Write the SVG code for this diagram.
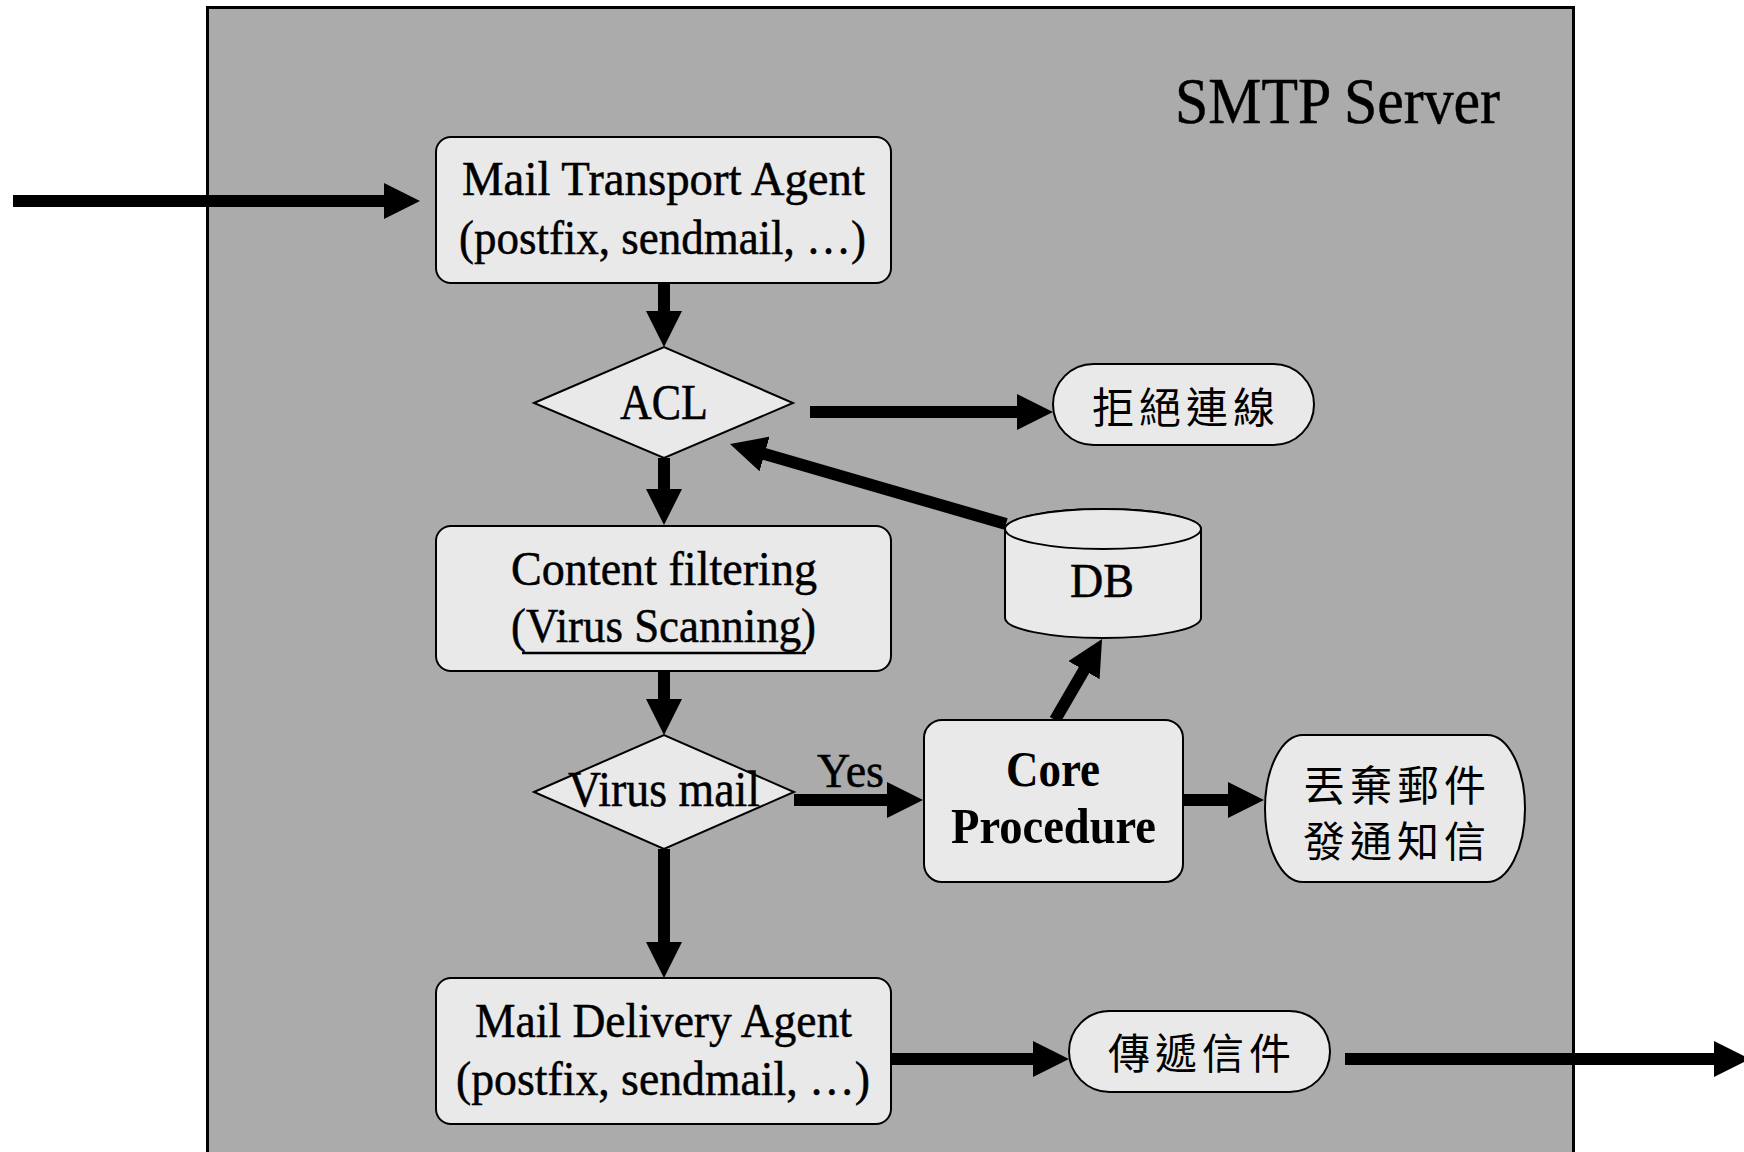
<svg xmlns="http://www.w3.org/2000/svg" width="1744" height="1152" viewBox="0 0 1744 1152">
<style>
.bg{fill:#ffffff}
.server{fill:#ababab;stroke:#000;stroke-width:3}
.node{fill:#e9e9e9;stroke:#000;stroke-width:2}
.conn{fill:none;stroke:#000;stroke-width:12;stroke-linecap:butt}
.t{font-family:"Liberation Serif","Times New Roman",serif;font-size:48px;fill:#000;stroke:#000;stroke-width:0.5}
.tb{font-family:"Liberation Serif","Times New Roman",serif;font-size:50px;font-weight:bold;fill:#000}
.cjk{font-family:"Noto Sans CJK TC","Noto Sans CJK SC",sans-serif;font-size:42px;letter-spacing:5px;fill:#000;text-anchor:middle}
</style>
<defs>
<marker id="ah" markerUnits="userSpaceOnUse" markerWidth="36" markerHeight="36" viewBox="0 0 36 36" refX="6" refY="18" orient="auto">
<path d="M0,0 L36,18 L0,36 z" fill="#000"/>
</marker>
</defs>
<rect class="bg" x="0" y="0" width="1744" height="1152"/>
<g id="smtp-server">
<rect class="server" x="207.5" y="7.5" width="1366" height="1200"/>
<text class="t" x="1175" y="123" style="font-size:65px" textLength="325" lengthAdjust="spacingAndGlyphs">SMTP Server</text>
</g>
<g id="connectors">
<line class="conn" x1="13" y1="201" x2="390" y2="201" marker-end="url(#ah)"/>
<line class="conn" x1="664" y1="283" x2="664" y2="317" marker-end="url(#ah)"/>
<line class="conn" x1="810" y1="412" x2="1023" y2="412" marker-end="url(#ah)"/>
<line class="conn" x1="664" y1="458" x2="664" y2="495" marker-end="url(#ah)"/>
<line class="conn" x1="1006" y1="524" x2="758.8" y2="452.3" marker-end="url(#ah)"/>
<line class="conn" x1="664" y1="671" x2="664" y2="705" marker-end="url(#ah)"/>
<line class="conn" x1="1055" y1="720" x2="1087" y2="665" marker-end="url(#ah)"/>
<line class="conn" x1="794" y1="800" x2="893" y2="800" marker-end="url(#ah)"/>
<line class="conn" x1="1183" y1="800" x2="1234" y2="800" marker-end="url(#ah)"/>
<line class="conn" x1="664" y1="849" x2="664" y2="948" marker-end="url(#ah)"/>
<line class="conn" x1="890" y1="1059" x2="1039" y2="1059" marker-end="url(#ah)"/>
<line class="conn" x1="1345" y1="1059" x2="1720" y2="1059" marker-end="url(#ah)"/>
<text class="t" x="817" y="787" textLength="67" lengthAdjust="spacingAndGlyphs">Yes</text>
</g>
<g id="mta">
<rect class="node" x="436" y="137" width="455" height="146" rx="15"/>
<text class="t" x="462" y="195" textLength="403" lengthAdjust="spacingAndGlyphs">Mail Transport Agent</text>
<text class="t" x="459" y="254" textLength="407" lengthAdjust="spacingAndGlyphs">(postfix, sendmail, …)</text>
</g>
<g id="acl">
<polygon class="node" points="534,403 664,347 793,403 664,458"/>
<text class="t" x="620" y="419" style="font-size:50px" textLength="88" lengthAdjust="spacingAndGlyphs">ACL</text>
</g>
<g id="reject">
<rect class="node" x="1053" y="364" width="261" height="81" rx="40.5"/>
<text class="cjk" x="1186" y="423">拒絕連線</text>
</g>
<g id="content-filter">
<rect class="node" x="436" y="526" width="455" height="145" rx="15"/>
<text class="t" x="511" y="585" textLength="306" lengthAdjust="spacingAndGlyphs">Content filtering</text>
<text class="t" x="511" y="642" textLength="305" lengthAdjust="spacingAndGlyphs">(Virus Scanning)</text>
<line x1="522" y1="653" x2="806" y2="653" stroke="#000" stroke-width="2.5"/>
</g>
<g id="db">
<path class="node" d="M1005,529 L1005,618 A98,20 0 0 0 1201,618 L1201,529 A98,20 0 0 0 1005,529 z"/>
<ellipse class="node" cx="1103" cy="529" rx="98" ry="20"/>
<text class="t" x="1070" y="597" textLength="64" lengthAdjust="spacingAndGlyphs">DB</text>
</g>
<g id="virus-mail">
<polygon class="node" points="534,792 664,735 794,792 664,849"/>
<text class="t" x="568" y="806" style="font-size:50px" textLength="192" lengthAdjust="spacingAndGlyphs">Virus mail</text>
</g>
<g id="core">
<rect class="node" x="924" y="720" width="259" height="162" rx="18"/>
<text class="tb" x="1006" y="786" textLength="94" lengthAdjust="spacingAndGlyphs">Core</text>
<text class="tb" x="951" y="843" textLength="205" lengthAdjust="spacingAndGlyphs">Procedure</text>
</g>
<g id="discard">
<rect class="node" x="1265" y="735" width="260" height="147" rx="38" ry="73.5"/>
<text class="cjk" x="1397" y="801">丟棄郵件</text>
<text class="cjk" x="1397" y="857">發通知信</text>
</g>
<g id="mda">
<rect class="node" x="436" y="978" width="455" height="146" rx="15"/>
<text class="t" x="475" y="1037" textLength="377" lengthAdjust="spacingAndGlyphs">Mail Delivery Agent</text>
<text class="t" x="456" y="1095" textLength="414" lengthAdjust="spacingAndGlyphs">(postfix, sendmail, …)</text>
</g>
<g id="deliver">
<rect class="node" x="1069" y="1011" width="261" height="81" rx="40.5"/>
<text class="cjk" x="1202" y="1069">傳遞信件</text>
</g>
</svg>
